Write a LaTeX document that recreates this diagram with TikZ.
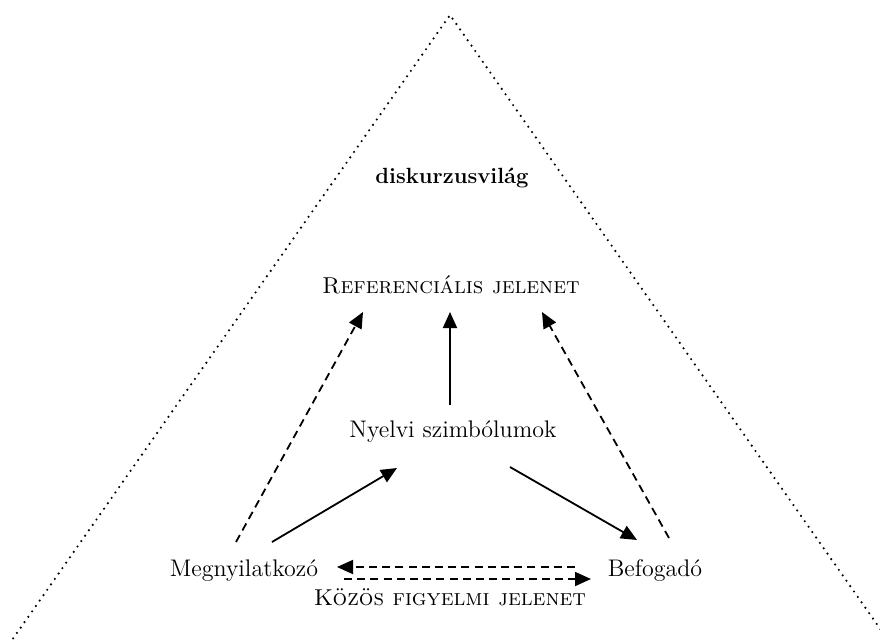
\documentclass[tikz,border=0pt]{standalone}
\usepackage{tikz}
\usetikzlibrary{arrows.meta}

\begin{document}
\begin{tikzpicture}[
    x=0.5pt, y=-0.5pt,
    every node/.style = {
      inner sep=0pt,
      anchor=base,
      font=\fontsize{12}{14}\selectfont
    },
    title/.style = {font=\fontsize{11}{13}\selectfont\bfseries},
    scene/.style = {font=\fontsize{11.5}{14}\selectfont\scshape},
    world/.style = {line width=1.2pt, line cap=round, dash pattern=on 0pt off 3.3pt},
    link/.style = {line width=0.9pt, -{Triangle[length=8pt,width=7pt]}},
    dashlink/.style = {link, dash pattern=on 4pt off 2.6pt}
  ]

  \useasboundingbox (0,0) rectangle (880,639);
  \clip (0,0) rectangle (880,639);

  \coordinate (apex) at (450,15);
  \draw[world] (-2,660) -- (apex) -- (902,660);

  \node[title] (world) at (452,183) {diskurzusvilág};
  \node[scene] (ref)   at (451,293) {Referenciális jelenet};
  \node (symb)  at (453,437) {Nyelvi szimbólumok};
  \node (speak) at (244,576) {Megnyilatkozó};
  \node (hear)  at (655,576) {Befogadó};
  \node[scene] (joint) at (450,605) {Közös figyelmi jelenet};

  \draw[dashlink] ([shift={(-8,-34)}]speak.base) -- ([shift={(-88,19)}]ref.base);
  \draw[link]     ([shift={(-3,-32)}]symb.base)  -- ([shift={(-1,19)}]ref.base);
  \draw[dashlink] ([shift={(14,-38)}]hear.base)  -- ([shift={(91,19)}]ref.base);
  \draw[link]     ([shift={(28,-34)}]speak.base) -- ([shift={(-56,31)}]symb.base);
  \draw[link]     ([shift={(57,30)}]symb.base)   -- ([shift={(-18,-36)}]hear.base);
  \draw[dashlink] ([shift={(-80,-9)}]hear.base)  -- ([shift={(93,-9)}]speak.base);
  \draw[dashlink] ([shift={(100,3)}]speak.base)  -- ([shift={(-64,3)}]hear.base);

\end{tikzpicture}
\end{document}
